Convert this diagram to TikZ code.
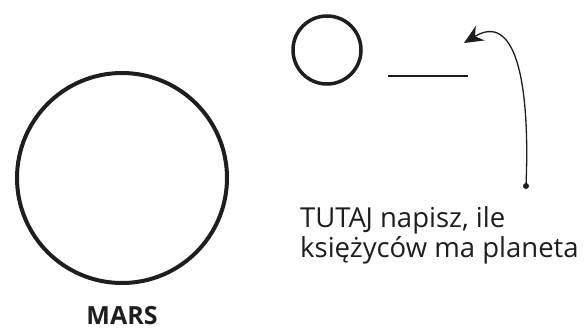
\documentclass[tikz,border=0pt]{standalone}
\usepackage{fontspec}
\setmainfont{Open Sans}
\usepackage{tikz}
\usetikzlibrary{arrows.meta, positioning}
\definecolor{inkblack}{RGB}{30, 30, 30}

\begin{document}
\begin{tikzpicture}[x=1pt, y=-1pt,
    planet/.style={circle, draw=inkblack, line width=4pt, inner sep=0pt},
    hint/.style={font=\fontsize{27.5}{30}\selectfont, text=inkblack, align=left, inner sep=0pt, anchor=north west},
    pointer/.style={-{Stealth[length=19pt, width=17pt]}, line width=1.3pt, inkblack}
]
    \useasboundingbox (0,0) rectangle (586,335);

    % Planet and its moon
    \node[planet, minimum size=210pt] (mars) at (122,178) {};
    \node[planet, minimum size=68pt, line width=3.5pt] (moon) at (327,50) {};

    % Answer line
    \coordinate (blankA) at (388,76);
    \coordinate (blankB) at (468,76);
    \draw[inkblack, line width=2.2pt] (blankA) -- (blankB);

    % Hint and arrow
    \node[hint] (hinttext) at (300,206) {TUTA\kern-0.5pt J napisz, ile\\księżyców ma planeta};
    \node[circle, fill=inkblack, inner sep=0pt, minimum size=6pt] (dot) at (526,186) {};
    \coordinate (tip) at (464,43);
    \draw[pointer] (dot) .. controls (530,80) and (515,12) .. (tip);

    % Name
    \node[font=\fontsize{25}{28}\bfseries\selectfont, text=inkblack] (name) at (122,316) {MARS};
\end{tikzpicture}
\end{document}
